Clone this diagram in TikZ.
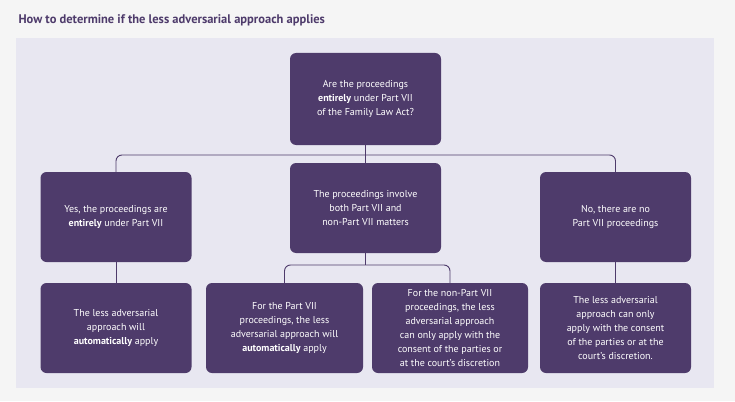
\documentclass[tikz,border=0pt]{standalone}
\usepackage{fontspec}
\setmainfont{PT Sans}
\usetikzlibrary{positioning}
\definecolor{boxpurple}{HTML}{4E3B6B}
\definecolor{panel}{HTML}{E8E7F1}
\definecolor{page}{HTML}{F5F5F5}
\tikzset{
  qbox/.style={rectangle, rounded corners=6pt, fill=boxpurple, text=white, align=center,
    minimum width=151pt, minimum height=90pt, inner sep=2pt,
    font=\fontsize{10}{14}\selectfont},
  link/.style={draw=boxpurple, line width=0.9pt, rounded corners=6pt}
}
\begin{document}
\begin{tikzpicture}[x=1pt, y=-1pt]
  \useasboundingbox (0,0) rectangle (735,401);
  \fill[page] (0,0) rectangle (735,401);
  \fill[panel] (16,38) rectangle (714,388);
  \node[anchor=west, text=boxpurple, font=\fontsize{12.5}{14}\bfseries\selectfont] (title) at (15,20)
    {How to determine if the less adversarial approach applies};

  \node[qbox, minimum height=92pt] (ask) at (365.5,99) {Are the proceedings\\\textbf{entirely} under Part VII\\of the Family Law Act?};
  \node[qbox] (yes) at (116,217) {Yes, the proceedings are\\\textbf{entirely} under Part VII};
  \node[qbox] (both) at (365.5,208) {The proceedings involve\\both Part VII and\\non-Part VII matters};
  \node[qbox] (no) at (615.5,217) {No, there are no\\Part VII proceedings};

  \node[qbox] (auto) at (116,328) {The less adversarial\\approach will\\\textbf{automatically} apply};
  \node[qbox, minimum width=157pt] (part) at (284.5,328) {For the Part VII\\proceedings, the  less\\adversarial approach will\\\textbf{automatically} apply};
  \node[qbox, minimum width=156pt] (nonpart) at (450,328) {For the non-Part VII\\proceedings, the less\\adversarial approach\\can only apply with the\\consent of the parties or\\at the court's discretion};
  \node[qbox] (consent) at (615.5,328) {The less adversarial\\approach can only\\apply with the consent\\of the parties or at the\\court's discretion.};

  % branches
  \coordinate (split) at (365.5,155);
  \draw[link] (ask.south) -- (both.north);
  \draw[link] (yes.north) |- (split) -| (no.north);
  \coordinate (fork) at (365.5,265);
  \draw[link] (both.south) -- (fork);
  \draw[link] (part.north) |- (fork) -| (nonpart.north);
  \draw[link] (yes.south) -- (auto.north);
  \draw[link] (no.south) -- (consent.north);
\end{tikzpicture}
\end{document}
